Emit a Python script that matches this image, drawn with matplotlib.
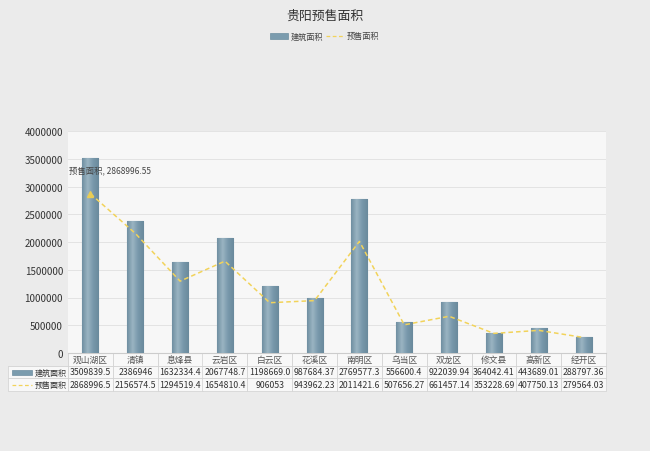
import matplotlib
matplotlib.use("Agg")
import matplotlib.pyplot as plt
from matplotlib.patches import Rectangle
from matplotlib.lines import Line2D
from matplotlib.colors import LinearSegmentedColormap
import numpy as np

plt.rcParams['font.family'] = ['Noto Sans CJK SC', 'DejaVu Sans']

categories = ['观山湖区', '清镇', '息烽县', '云岩区', '白云区', '花溪区', '南明区', '乌当区', '双龙区', '修文县', '高新区', '经开区']
build_area = [3509839.5, 2386946, 1632334.4, 2067748.7, 1198669.0, 987684.37, 2769577.3, 556600.4, 922039.94, 364042.41, 443689.01, 288797.36]
presale_area = [2868996.5, 2156574.5, 1294519.4, 1654810.4, 906053, 943962.23, 2011421.6, 507656.27, 661457.14, 353228.69, 407750.13, 279564.03]
build_labels = ['3509839.5', '2386946', '1632334.4', '2067748.7', '1198669.0', '987684.37', '2769577.3', '556600.4', '922039.94', '364042.41', '443689.01', '288797.36']
presale_labels = ['2868996.5', '2156574.5', '1294519.4', '1654810.4', '906053', '943962.23', '2011421.6', '507656.27', '661457.14', '353228.69', '407750.13', '279564.03']
series_names = ['建筑面积', '预售面积']
title = '贵阳预售面积'
annot = '预售面积, 2868996.55'
yticks = [0, 500000, 1000000, 1500000, 2000000, 2500000, 3000000, 3500000, 4000000]

W, H = 650, 452
fig = plt.figure(figsize=(W / 100, H / 100), dpi=100)
fig.patch.set_facecolor('#ebebeb')

L, R, T, B = 68, 606, 132, 354
ax = fig.add_axes([L / W, 1 - B / H, (R - L) / W, (B - T) / H])
ax.set_facecolor('#f7f7f7')

x = np.arange(len(categories))
bar_color = '#7b9cae'
edge_color = '#6d8ea0'
bw = 0.36
bars = ax.bar(x, build_area, width=bw, color=bar_color, edgecolor=edge_color, linewidth=0.8, zorder=3)
cmap = LinearSegmentedColormap.from_list('g', ['#6f8fa1', '#9ab4c2', '#7898ab', '#6a8a9c'])
grad = np.linspace(0, 1, 64).reshape(1, -1)
for b in bars:
    im = ax.imshow(grad, cmap=cmap, aspect='auto', zorder=3.5,
                   extent=[b.get_x(), b.get_x() + b.get_width(), 0, b.get_height()])
    im.set_clip_path(b)
line_color = '#f2d35a'
ax.plot(x, presale_area, color=line_color, linestyle=(0, (3, 2)), linewidth=1.1, zorder=4)
ax.plot([x[0]], [presale_area[0]], marker='^', color='#e8cc55', markersize=5, zorder=5)
ax.text(-0.48, 3300000, annot, fontsize=6, color='#444444', va='center', ha='left', zorder=6)

ax.set_xlim(-0.5, len(categories) - 0.5)
ax.set_ylim(0, 4000000)
ax.set_yticks(yticks)
ax.set_yticklabels([str(v) for v in yticks], fontsize=7, color='#333333')
ax.set_xticks([])
ax.grid(axis='y', color='#e0e0e0', linewidth=0.6, zorder=0)
for s in ['top', 'right', 'left']:
    ax.spines[s].set_visible(False)
ax.spines['bottom'].set_color('#cccccc')
ax.tick_params(axis='y', length=0, pad=3.6)

# table
cell_text = [[''] + categories,
             [series_names[0]] + build_labels,
             [series_names[1]] + presale_labels]
tx0, tx1 = 8, 606
ty0, ty1 = 354, 392
pw = R - L
ph = B - T
bbox = [(tx0 - L) / pw, (B - ty1) / ph, (tx1 - tx0) / pw, (ty1 - ty0) / ph]
first_w = L - tx0
col_w = (R - L) / len(categories)
tbl = ax.table(cellText=cell_text, colWidths=[first_w] + [col_w] * len(categories),
               bbox=bbox, cellLoc='center')
tbl.auto_set_font_size(False)
tbl.set_fontsize(6.3)
for (r, c), cell in tbl.get_celld().items():
    cell.set_edgecolor('#d0d0d0')
    cell.set_linewidth(0.5)
    cell.set_facecolor('#f8f8f8')
    cell.get_text().set_color('#333333')
    if c == 0 and r == 0:
        cell.visible_edges = 'BR'
        cell.set_facecolor('none')
    if r == 0:
        cell.get_text().set_color('#555555')
    if c == 0:
        cell.get_text().set_ha('right')
        cell.get_text().set_fontsize(5.8)
        cell.PAD = 0.02

# legend icons in table
fig.add_artist(Rectangle((12 / W, 1 - 376 / H), 20 / W, 5 / H, transform=fig.transFigure,
                         facecolor=bar_color, edgecolor=edge_color, linewidth=0.5))
fig.add_artist(Line2D([12 / W, 32 / W], [1 - 386 / H, 1 - 386 / H], transform=fig.transFigure,
                      color=line_color, linestyle=(0, (3, 2)), linewidth=0.9))

# title & legend
fig.text(0.5, 1 - 16 / H, title, ha='center', va='center', fontsize=9.3, color='#333333')
ly = 1 - 37 / H
fig.add_artist(Rectangle((270 / W, ly - 3 / H), 18 / W, 6 / H, transform=fig.transFigure,
                         facecolor=bar_color, edgecolor=edge_color, linewidth=0.5))
fig.text(291 / W, ly, series_names[0], ha='left', va='center', fontsize=5.9, color='#444444')
fig.add_artist(Line2D([326 / W, 345 / W], [ly, ly], transform=fig.transFigure,
                      color=line_color, linestyle=(0, (3, 2)), linewidth=0.9))
fig.text(347 / W, ly, series_names[1], ha='left', va='center', fontsize=5.9, color='#444444')

fig.savefig('out.png', dpi=100, facecolor=fig.get_facecolor())
